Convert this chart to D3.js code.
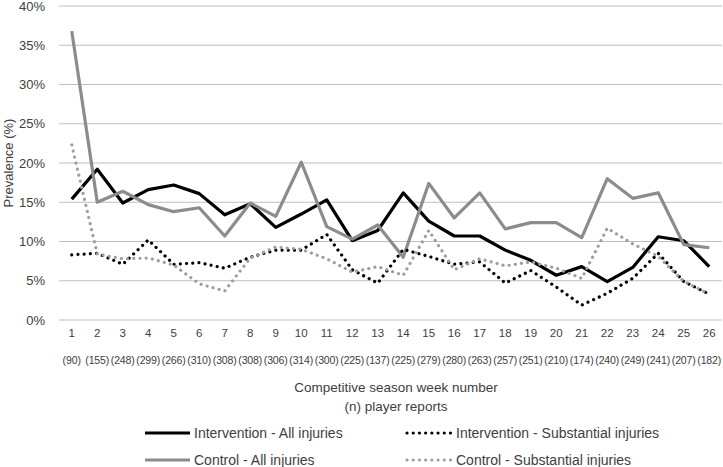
<!DOCTYPE html>
<html><head><meta charset="utf-8">
<script src="https://cdn.jsdelivr.net/npm/d3@7"></script>
<style>
html,body{margin:0;padding:0;background:#fff;}
text{font-family:"Liberation Sans",Arial,sans-serif;fill:#404040;}
</style></head>
<body><svg id="c" width="723" height="467"></svg>
<script>
const weeks = ["1","2","3","4","5","6","7","8","9","10","11","12","13","14","15","16","17","18","19","20","21","22","23","24","25","26"];
const nReports = ["(90)","(155)","(248)","(299)","(266)","(310)","(308)","(308)","(306)","(314)","(300)","(225)","(137)","(225)","(279)","(280)","(263)","(257)","(251)","(210)","(174)","(240)","(249)","(241)","(207)","(182)"];
const interventionAll = [15.4,19.2,14.9,16.6,17.2,16.1,13.4,14.8,11.8,13.5,15.3,10.1,11.4,16.2,12.6,10.7,10.7,8.9,7.6,5.7,6.8,4.9,6.7,10.6,10.1,6.8];
const interventionSub = [8.3,8.5,7.1,10.2,7.1,7.3,6.6,8.0,8.9,8.9,10.9,6.4,4.7,9.0,8.1,7.1,7.4,4.7,6.3,4.2,1.9,3.4,5.3,8.5,4.9,3.3];
const controlAll = [36.8,15.0,16.4,14.7,13.8,14.3,10.7,14.9,13.2,20.1,11.9,10.3,12.1,8.0,17.4,13.0,16.2,11.6,12.4,12.4,10.5,18.0,15.5,16.2,9.6,9.2];
const controlSub = [22.3,8.4,7.8,7.9,7.0,4.6,3.7,7.9,9.3,9.0,7.8,6.1,6.8,5.7,11.4,6.4,7.8,6.9,7.4,6.6,5.3,11.7,9.7,8.1,4.9,3.3];
const yTicks = [0,5,10,15,20,25,30,35,40];

const series = [
  {name:"Intervention - All injuries", values:interventionAll, color:"#000", dash:null},
  {name:"Control - All injuries", values:controlAll, color:"#8c8c8c", dash:null},
  {name:"Intervention - Substantial injuries", values:interventionSub, color:"#000", dash:"0.01,6.2"},
  {name:"Control - Substantial injuries", values:controlSub, color:"#9e9e9e", dash:"0.01,6.2"}
];

const svg = d3.select("#c");
const L=59, R=722, T=6, B=320;
const x = d3.scaleBand().domain(weeks).range([L,R]);
const y = d3.scaleLinear().domain([0,40]).range([B,T]);

svg.append("g").selectAll("line").data(yTicks).join("line")
  .attr("x1",L).attr("x2",R).attr("y1",d=>y(d)).attr("y2",d=>y(d))
  .attr("stroke","#bfbfbf").attr("stroke-width",1.2);

const ya = svg.append("g").attr("transform",`translate(${L},0)`)
  .call(d3.axisLeft(y).tickValues(yTicks).tickFormat(d=>d+"%").tickSize(0).tickPadding(14));
ya.select(".domain").remove();
ya.selectAll("text").style("font-size","13px").attr("fill","#404040")
  .style("font-family","'Liberation Sans',Arial,sans-serif");

const xa = svg.append("g").attr("transform",`translate(0,${B})`)
  .call(d3.axisBottom(x).tickSize(0).tickPadding(9));
xa.select(".domain").remove();
xa.selectAll("text").style("font-size","11.5px").attr("fill","#404040")
  .style("font-family","'Liberation Sans',Arial,sans-serif");

svg.append("g").selectAll("text").data(weeks).join("text")
  .attr("x",d=>x(d)+x.bandwidth()/2).attr("y",364)
  .attr("text-anchor","middle")
  .style("font-family","'Liberation Sans Narrow','Liberation Sans',Arial,sans-serif")
  .style("font-size","10.5px").style("letter-spacing","-0.1px")
  .text((d,i)=>nReports[i]);

const line = d3.line().x((d,i)=>x(weeks[i])+x.bandwidth()/2).y(d=>y(d));
series.forEach(s=>{
  svg.append("path").datum(s.values).attr("d",line)
    .attr("fill","none").attr("stroke",s.color).attr("stroke-width",3.2)
    .attr("stroke-linejoin","round")
    .attr("stroke-linecap",s.dash?"round":"butt")
    .attr("stroke-dasharray",s.dash);
});

svg.append("text").attr("transform","translate(13,163) rotate(-90)")
  .attr("text-anchor","middle").style("font-size","13px").text("Prevalence (%)");
svg.append("text").attr("x",396).attr("y",392).attr("text-anchor","middle")
  .style("font-size","13.5px").text("Competitive season week number");
svg.append("text").attr("x",396).attr("y",411).attr("text-anchor","middle")
  .style("font-size","13.5px").text("(n) player reports");

const legPos = [[145,433],[145,460],[407,433],[407,460]];
series.forEach((s,i)=>{
  const [lx,ly]=legPos[i];
  svg.append("line").attr("x1",lx).attr("x2",lx+45).attr("y1",ly).attr("y2",ly)
    .attr("stroke",s.color).attr("stroke-width",3.2)
    .attr("stroke-linecap",s.dash?"round":"butt").attr("stroke-dasharray",s.dash);
  svg.append("text").attr("x",lx+49).attr("y",ly+5).style("font-size","14px").text(s.name);
});
</script></body></html>
